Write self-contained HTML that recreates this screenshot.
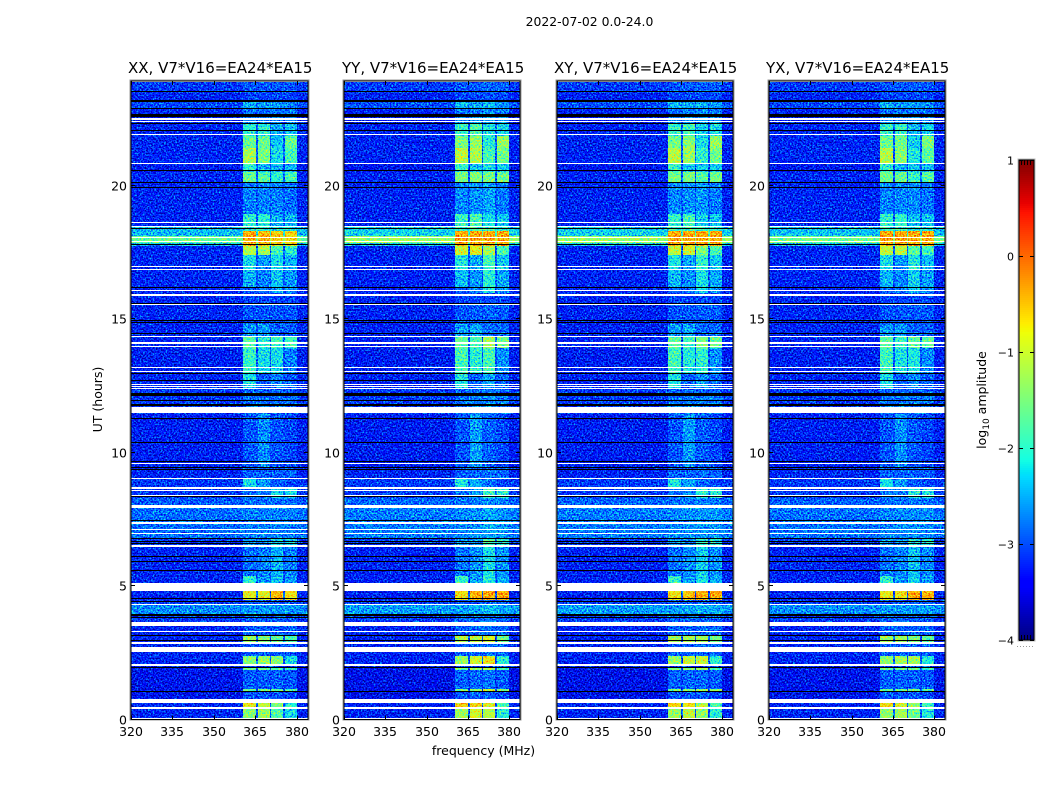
<!DOCTYPE html>
<html lang="en">
<head>
<meta charset="utf-8">
<title>2022-07-02 0.0-24.0</title>
<style>
html,body{margin:0;padding:0;background:#fff;width:1050px;height:800px;overflow:hidden}
svg{display:block}
text{font-family:"DejaVu Sans","Liberation Sans",sans-serif;fill:#000}
.tick{font-size:12.5px}
.ptitle{font-size:15px}
.axl{font-size:12.5px}
</style>
</head>
<body>
<svg id="chart" xmlns="http://www.w3.org/2000/svg" width="1050" height="800" viewBox="0 0 1050 800">
<defs>
<filter id="jet-noise" x="0" y="0" width="100%" height="100%" color-interpolation-filters="sRGB">
<feTurbulence type="fractalNoise" baseFrequency="0.62" numOctaves="2" seed="7" result="raw"/>
<feColorMatrix in="raw" type="matrix" values="1 0 0 0 0  1 0 0 0 0  1 0 0 0 0  0 0 0 0 1" result="noise"/>
<feComposite in="SourceGraphic" in2="noise" operator="arithmetic" k1="0" k2="1" k3="0.6" k4="-0.33" result="noisy"/>
<feColorMatrix in="noisy" type="matrix" values="1 0 0 0 0  1 0 0 0 0  1 0 0 0 0  0 0 0 0 1" result="grey"/>
<feComponentTransfer in="grey">
<feFuncR id="jet-table-r" type="table" tableValues="0 1"/>
<feFuncG id="jet-table-g" type="table" tableValues="0 1"/>
<feFuncB id="jet-table-b" type="table" tableValues="0 1"/>
</feComponentTransfer>
</filter>
</defs>
<text x="589.5" y="26" text-anchor="middle" font-size="12.4">2022-07-02 0.0-24.0</text>
<text class="ptitle" x="128" y="73">XX, V7*V16=EA24*EA15</text>
<text class="ptitle" x="342" y="73">YY, V7*V16=EA24*EA15</text>
<text class="ptitle" x="554" y="73">XY, V7*V16=EA24*EA15</text>
<text class="ptitle" x="766" y="73">YX, V7*V16=EA24*EA15</text>
<text class="axl" transform="translate(102,399.5) rotate(-90)" text-anchor="middle">UT (hours)</text>
<text class="axl" x="483.5" y="755" text-anchor="middle">frequency (MHz)</text>
<text class="axl" transform="translate(986,400) rotate(-90)" text-anchor="middle">log<tspan font-size="9" dy="3">10</tspan><tspan dy="-3"> amplitude</tspan></text>
<g id="panels"></g>
<g id="colorbar"></g>
</svg>
<script>
// Axis tick values
const frequencyTicks = [320, 335, 350, 365, 380];
const timeTicks = [0, 5, 10, 15, 20];
const colorbarTicks = [1, 0, -1, -2, -3, -4];

// Channels present in the band (MHz)
const channelStart = [360.4, 365.8, 370.5, 375.6];
const channelEnd = [365.1, 370.2, 374.9, 380.0];

// Time bands (UT hours): lower edge of each band, plus the final top edge
const bandEdges = [0,.41,.6,1.05,1.16,1.84,1.95,2.06,2.36,2.92,3.15,3.52,3.9,4.34,4.46,4.83,5.39,6.48,6.78,7.94,8.31,8.65,9.06,9.44,11.46,12.21,12.4,12.96,13.93,14.31,14.83,15.51,15.96,16.18,16.82,17.38,17.75,17.83,18.09,18.31,18.46,18.95,19.89,20.11,20.49,20.82,21.39,21.87,22.32,22.55,22.85,23.11,23.48,23.89];

// log10 amplitude of the XX panel in each band
const backgroundLevel = [-3.12,-3.12,-3.25,-3.25,-3.25,-3.2,-3.2,-3.12,-3.12,-3.12,-3.12,-3,-2.55,-3,-3.12,-3.12,-3.12,-3,-2.7,-2.8,-3,-3,-3.12,-3.15,-3,-3,-3.12,-3.15,-3.12,-3.12,-3.12,-3.12,-3.12,-3.12,-3.12,-3.12,-2.3,-1.5,-2.3,-2.3,-3.12,-3.12,-3.12,-3.12,-3.2,-3.12,-3.12,-3.12,-3.2,-3.12,-2.9,-3.12,-3];
const channel1Level = [-1.3,-.6,-2.85,-1.5,-2.8,-1.5,-2.95,-1.3,-2.8,-1.2,-2.8,-2.8,-2.5,-2.85,-.7,-1.9,-2.7,-2.5,-2.6,-2.7,-2.7,-2.1,-2.8,-2.85,-2.7,-2.8,-2.1,-1.8,-1.6,-2.5,-2.85,-2.95,-2.8,-2.35,-2.1,-1,-.3,-.2,-.2,-1.9,-1.9,-2.6,-2.6,-1.5,-1.9,-1.1,-1.5,-1.9,-2.6,-2.7,-2.35,-2.95,-2.85];
const channel2Level = [-1.2,-.9,-2.85,-1.5,-2.8,-1.5,-2.95,-1.2,-2.8,-1.3,-2.8,-2.8,-2.5,-2.85,-.7,-2.5,-2.6,-2.6,-2.6,-2.7,-2.6,-2.5,-2.8,-2.55,-2.7,-2.8,-2.8,-2.1,-1.9,-2.5,-2.85,-2.95,-2.7,-2.6,-2.5,-1.1,-.3,-.3,-.3,-1.9,-1.9,-2.6,-2.6,-1.6,-2.35,-1.4,-1.5,-1.9,-2.6,-2.7,-2.5,-2.95,-2.85];
const channel3Level = [-1.6,-1.4,-2.85,-1.5,-2.8,-1.6,-2.95,-1.3,-2.8,-1.5,-2.8,-2.8,-2.5,-2.85,-.3,-2.25,-2.35,-2.1,-2.6,-2.7,-2.1,-2.8,-2.8,-2.85,-2.7,-2.8,-2.6,-2.1,-1.7,-2.8,-2.85,-2.95,-2.35,-2.25,-2.1,-1.7,-.4,-.4,-.4,-2.1,-2.35,-2.6,-2.6,-1.9,-2.35,-2.1,-2.25,-2.35,-2.6,-2.7,-2.5,-2.95,-2.85];
const channel4Level = [-2.1,-1.9,-2.95,-1.6,-2.85,-1.9,-2.95,-2.1,-2.8,-1.7,-2.8,-2.8,-2.5,-2.85,-.5,-2.5,-2.6,-2.1,-2.6,-2.7,-2.1,-2.95,-2.8,-2.95,-2.7,-2.8,-2.8,-2.6,-1.7,-2.8,-2.85,-2.95,-2.6,-2.5,-2.35,-1.9,-.5,-.5,-.5,-2.1,-2.35,-2.7,-2.7,-1.7,-2.35,-1.7,-1.5,-2.25,-2.6,-2.7,-2.6,-2.95,-2.85];

// Polarisation response relative to XX
const panelNames = ['xx', 'yy', 'xy', 'yx'];
const backgroundGain = [1, 1.2, 1.2, 1.05];
const channel1Gain = [1, 1.08, 1.06, 1.03];
const channel2Gain = [1, 1.2, 1.15, 1.06];
const channel3Gain = [1, 1.42, 1.25, 1.1];
const channel4Gain = [1, 1.2, 1.2, 1.1];

// Flagged (blank) time ranges, UT hours
const flaggedStart = [0,.41,.6,2.02,2.51,2.81,3.26,3.49,3.55,4.31,4.83,6.46,6.93,7.08,7.34,7.93,8.35,8.54,8.65,8.99,9.57,11.47,12.36,12.45,12.51,13,13.15,13.96,14.08,14.31,15.53,15.88,16.03,16.85,16.93,17.9,18.03,18.44,18.6,20.82,21.9,22.39,22.47];
const flaggedEnd = [.07,.45,.75,2.06,2.73,2.92,3.33,3.53,3.67,4.34,5.13,6.52,6.97,7.12,7.38,8.05,8.39,8.58,8.69,9.03,9.61,11.72,12.4,12.49,12.55,13.04,13.19,14,14.12,14.35,15.57,15.92,16.07,16.89,16.97,17.94,18.07,18.48,18.64,20.86,21.94,22.43,22.51];

// Zero-amplitude (black) time ranges, UT hours
const zeroStart = [1.02,1.94,2.94,3.13,3.8,3.87,4.41,4.5,5.55,5.9,6.09,6.56,6.66,6.77,7.43,8.33,9.33,9.43,9.64,10.34,11.24,11.76,11.93,12.12,12.68,12.93,14.42,14.86,14.92,15.57,16.17,17.76,18.38,19.9,20.08,20.54,22.03,22.31,22.56,22.85,23.13,23.51];
const zeroEnd = [1.06,1.98,2.98,3.17,3.84,3.96,4.45,4.54,5.6,5.94,6.13,6.6,6.7,6.8,7.47,8.37,9.37,9.47,9.68,10.38,11.28,11.8,11.97,12.21,12.72,12.97,14.49,14.9,14.96,15.61,16.21,17.82,18.42,19.94,20.12,20.58,22.07,22.35,22.66,22.89,23.19,23.55];

const NS = 'http://www.w3.org/2000/svg';
const layoutLeft = [131, 344, 557, 769];
const layoutWidth = [177, 176, 176, 176];
const plotBottom = 719.5, plotTop = 81;
const freqMin = 320, freqMax = 384, hourScale = 26.7;
const levelFloor = -3.05, levelPeak = -0.2;

function xPos(left, width, mhz) { return Math.round(left + (mhz - freqMin) / (freqMax - freqMin) * width); }
function yPos(hour) { return Math.round(plotBottom - hour * hourScale); }
function lerp(points, t) {
  for (let i = 1; i < points.length; i++) {
    if (t <= points[i][0]) {
      const a = points[i - 1], b = points[i];
      return a[1] + (b[1] - a[1]) * (t - a[0]) / (b[0] - a[0]);
    }
  }
  return points[points.length - 1][1];
}
const jetRed = [[0,0],[.35,0],[.66,1],[.89,1],[1,.5]];
const jetGreen = [[0,0],[.125,0],[.375,1],[.64,1],[.91,0],[1,0]];
const jetBlue = [[0,.5],[.11,1],[.34,1],[.65,0],[1,0]];
function levelToFraction(level) { return Math.max(0, Math.min(1, (level + 4) / 5)); }
function jet(level) {
  const t = levelToFraction(level);
  return 'rgb(' + Math.round(lerp(jetRed, t) * 255) + ',' + Math.round(lerp(jetGreen, t) * 255) + ',' + Math.round(lerp(jetBlue, t) * 255) + ')';
}
// Heatmap rows are drawn as grey = level fraction; the filter adds speckle and applies jet
function levelGrey(level) {
  const v = Math.round(levelToFraction(level) * 255);
  return 'rgb(' + v + ',' + v + ',' + v + ')';
}
function tableFor(points) {
  const out = [];
  for (let i = 0; i <= 255; i++) out.push(lerp(points, i / 255).toFixed(4));
  return out.join(' ');
}
document.getElementById('jet-table-r').setAttribute('tableValues', tableFor(jetRed));
document.getElementById('jet-table-g').setAttribute('tableValues', tableFor(jetGreen));
document.getElementById('jet-table-b').setAttribute('tableValues', tableFor(jetBlue));

function applyGain(level, gain) {
  return Math.min(levelPeak, levelFloor + (level - levelFloor) * gain);
}
function make(tag, attrs, parent) {
  const el = document.createElementNS(NS, tag);
  for (const k in attrs) el.setAttribute(k, attrs[k]);
  parent.appendChild(el);
  return el;
}

const panelsRoot = document.getElementById('panels');
panelNames.forEach(function (name, p) {
  const left = layoutLeft[p];
  const plotWidth = layoutWidth[p];
  const right = left + plotWidth;
  const group = make('g', {}, panelsRoot);
  
  
  const heat = make('g', {filter: 'url(#jet-noise)'}, group);
  
  

  const chanGain = [channel1Gain[p], channel2Gain[p], channel3Gain[p], channel4Gain[p]];
  const chanLevels = [channel1Level, channel2Level, channel3Level, channel4Level];

  // Heatmap: one row per time band; background and channels per row
  for (let b = 0; b < backgroundLevel.length; b++) {
    const yTop = yPos(bandEdges[b + 1]);
    const yBot = yPos(bandEdges[b]);
    const bgLevel = applyGain(backgroundLevel[b], backgroundGain[p]);
    const bg = make('rect', {x: left, y: yTop, width: plotWidth, height: yBot - yTop, fill: levelGrey(bgLevel), 'shape-rendering': 'crispEdges'}, heat);
    
    
    for (let c = 0; c < channelStart.length; c++) {
      const x0 = xPos(left, plotWidth, channelStart[c]);
      const x1 = xPos(left, plotWidth, channelEnd[c]);
      const level = applyGain(chanLevels[c][b], chanGain[c]);
      const cell = make('rect', {x: x0, y: yTop, width: x1 - x0, height: yBot - yTop, fill: levelGrey(level), 'shape-rendering': 'crispEdges'}, heat);
      
      
      if (c < channelStart.length - 1) {
        const gapEnd = xPos(left, plotWidth, channelStart[c + 1]);
        const gapLevel = Math.max(bgLevel, Math.min(level, bgLevel + 0.3));
        const gap = make('rect', {x: x1, y: yTop, width: gapEnd - x1, height: yBot - yTop, fill: levelGrey(gapLevel), 'shape-rendering': 'crispEdges'}, heat);
        
        
      }
    }
  }

  flaggedStart.forEach(function (start, i) {
    const y0 = yPos(flaggedEnd[i]);
    const line = make('rect', {x: left, y: y0, width: plotWidth, height: Math.max(1, yPos(start) - y0), fill: '#fff', 'shape-rendering': 'crispEdges'}, group);
    
    
  });
  zeroStart.forEach(function (start, i) {
    const y0 = yPos(zeroEnd[i]);
    const line = make('rect', {x: left, y: y0, width: plotWidth, height: Math.max(1, yPos(start) - y0), fill: '#000', 'shape-rendering': 'crispEdges'}, group);
    
    
  });

  // Frame: grey halo outside a black line
  const halo = make('rect', {x: left - 1, y: plotTop - 1, width: plotWidth + 2, height: plotBottom - plotTop + 1.5, fill: 'none', stroke: '#9a9a9a', 'stroke-width': 1, 'shape-rendering': 'crispEdges'}, group);
  
  
  const frame = make('rect', {x: left, y: plotTop, width: plotWidth, height: plotBottom - plotTop, fill: 'none', stroke: '#000', 'stroke-width': 1, 'shape-rendering': 'crispEdges'}, group);
  
  

  frequencyTicks.forEach(function (tick) {
    const x = xPos(left, plotWidth, tick) + 0.5;
    const low = make('line', {x1: x, x2: x, y1: plotBottom, y2: plotBottom - 4, stroke: '#000'}, group);
    
    
    const high = make('line', {x1: x, x2: x, y1: plotTop, y2: plotTop + 4, stroke: '#000'}, group);
    
    
    const label = make('text', {x: x - 0.5, y: 736, 'text-anchor': 'middle', class: 'tick'}, group);
    
    
    label.textContent = tick;
  });
  timeTicks.forEach(function (tick) {
    const y = yPos(tick) - 0.5;
    const a = make('line', {x1: left, x2: left + 4, y1: y, y2: y, stroke: '#000'}, group);
    
    
    const c = make('line', {x1: right, x2: right - 4, y1: y, y2: y, stroke: '#000'}, group);
    
    
    const label = make('text', {x: left - 4, y: y + 5, 'text-anchor': 'end', class: 'tick'}, group);
    
    
    label.textContent = tick;
  });
});

// Colorbar
const cbRoot = document.getElementById('colorbar');
const cbLeft = 1019, cbRight = 1034, cbTop = 160, cbBottom = 640;
const cbLevelMax = colorbarTicks[0], cbLevelMin = colorbarTicks[colorbarTicks.length - 1];
function cbY(level) { return cbTop + (cbLevelMax - level) / (cbLevelMax - cbLevelMin) * (cbBottom - cbTop); }
const cbSteps = 240;
for (let i = 0; i < cbSteps; i++) {
  const lvl = cbLevelMax - (i + 0.5) * (cbLevelMax - cbLevelMin) / cbSteps;
  const step = make('rect', {x: cbLeft, y: cbTop + i * (cbBottom - cbTop) / cbSteps, width: cbRight - cbLeft, height: (cbBottom - cbTop) / cbSteps + 0.5, fill: jet(lvl), 'shape-rendering': 'crispEdges'}, cbRoot);
  
  
}
const cbHalo = make('rect', {x: cbLeft - 1, y: cbTop - 1, width: cbRight - cbLeft + 2, height: cbBottom - cbTop + 2, fill: 'none', stroke: '#bbb', 'shape-rendering': 'crispEdges'}, cbRoot);


const cbFrame = make('rect', {x: cbLeft, y: cbTop, width: cbRight - cbLeft, height: cbBottom - cbTop, fill: 'none', stroke: '#000', 'shape-rendering': 'crispEdges'}, cbRoot);


colorbarTicks.forEach(function (tick) {
  const y = Math.round(cbY(tick)) + 0.5;
  const l = make('line', {x1: cbLeft, x2: cbLeft + 4, y1: y, y2: y, stroke: '#000'}, cbRoot);
  
  
  const r = make('line', {x1: cbRight, x2: cbRight - 4, y1: y, y2: y, stroke: '#000'}, cbRoot);
  
  
  const label = make('text', {x: 1014, y: y + 4, 'text-anchor': 'end', 'font-size': '11'}, cbRoot);
  
  
  label.textContent = tick < 0 ? '\u2212' + Math.abs(tick) : String(tick);
});
const cbTopMinor = make('line', {x1: 1021, x2: 1033, y1: 162.5, y2: 162.5, stroke: '#000', 'stroke-width': 5, 'stroke-dasharray': '1 2'}, cbRoot);


const cbBotMinor = make('line', {x1: 1021, x2: 1033, y1: 637.5, y2: 637.5, stroke: '#000', 'stroke-width': 5, 'stroke-dasharray': '1 2'}, cbRoot);


const cbDots = make('line', {x1: 1017, x2: 1035, y1: 646.5, y2: 646.5, stroke: '#999', 'stroke-width': 1, 'stroke-dasharray': '1 2'}, cbRoot);


</script>
</body>
</html>
